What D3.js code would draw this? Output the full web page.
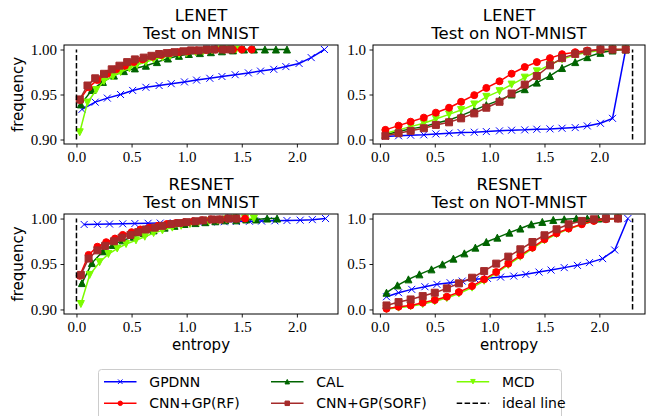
<!DOCTYPE html>
<html lang="en">
<head>
    <meta charset="UTF-8">
    <title>entropy cdf</title>
    <script src="https://cdn.jsdelivr.net/npm/d3@7/dist/d3.min.js"></script>
    <style type="text/css">
        body { margin: 0; background: #fff; }
        .title, .axis-label, .legend text { font-family: "DejaVu Sans", sans-serif; fill: #000; }
        .line { fill: none; stroke-width: 1.5px; }
    </style>
</head>
<body>
    <div id="diagram"></div>
    <script type="text/javascript">
// ---- data ----
var seriesNames = ["GPDNN", "CAL", "MCD", "CNN+GP(RF)", "CNN+GP(SORF)"];
var idealName = "ideal line";
var xTicks = [0.0, 0.5, 1.0, 1.5, 2.0];
var mnistTicks = [0.90, 0.95, 1.00];
var notMnistTicks = [0.0, 0.5, 1.0];

// LENET, test on MNIST
var lmGpdnnX = [0.05,0.17,0.28,0.40,0.51,0.63,0.75,0.86,0.98,1.09,1.21,1.32,1.44,1.56,1.67,1.79,1.90,2.02,2.13,2.25];
var lmGpdnnY = [0.9335,0.9415,0.946,0.950,0.9545,0.958,0.960,0.962,0.964,0.966,0.968,0.970,0.972,0.974,0.976,0.978,0.981,0.9845,0.991,1.0];
var lmCalX = [0.04,0.14,0.24,0.34,0.43,0.53,0.63,0.73,0.83,0.93,1.02,1.12,1.22,1.32,1.42,1.52,1.61,1.71,1.81,1.91];
var lmCalY = [0.939,0.955,0.964,0.971,0.976,0.979,0.982,0.986,0.990,0.993,0.995,0.996,0.997,0.998,0.999,1.0,1.0,1.0,1.0,1.0];
var lmMcdX = [0.03,0.10,0.18,0.25,0.33,0.40,0.48,0.55,0.63,0.70,0.78,0.85,0.93,1.00,1.08,1.15,1.23,1.30,1.38,1.45];
var lmMcdY = [0.908,0.941,0.955,0.965,0.970,0.975,0.979,0.983,0.986,0.989,0.991,0.993,0.995,0.996,0.997,0.998,0.999,1.0,1.0,1.0];
var lmRfX = [0.03,0.11,0.19,0.28,0.36,0.44,0.52,0.60,0.69,0.77,0.85,0.93,1.01,1.09,1.18,1.26,1.34,1.42,1.50,1.59];
var lmRfY = [0.944,0.958,0.966,0.973,0.978,0.982,0.986,0.989,0.992,0.994,0.996,0.997,0.998,0.999,0.9995,1.0,1.0,1.0,1.0,1.0];
var lmSorfX = [0.03,0.10,0.17,0.25,0.32,0.39,0.46,0.53,0.61,0.68,0.75,0.82,0.89,0.97,1.04,1.11,1.18,1.25,1.33,1.40];
var lmSorfY = [0.9445,0.960,0.968,0.973,0.978,0.982,0.986,0.989,0.991,0.993,0.995,0.996,0.997,0.998,0.999,0.999,1.0,1.0,1.0,1.0];

// LENET, test on NOT-MNIST (all series share the bins)
var lnX = [0.05,0.17,0.28,0.40,0.51,0.63,0.74,0.86,0.97,1.09,1.20,1.32,1.43,1.55,1.66,1.78,1.89,2.01,2.12,2.24];
var lnGpdnnY = [0.033,0.041,0.048,0.052,0.062,0.070,0.077,0.081,0.088,0.096,0.103,0.107,0.114,0.118,0.125,0.132,0.151,0.180,0.235,1.0];
var lnCalY = [0.052,0.088,0.118,0.143,0.180,0.217,0.265,0.327,0.382,0.438,0.500,0.559,0.632,0.706,0.794,0.860,0.915,0.963,0.989,1.0];
var lnMcdY = [0.070,0.107,0.143,0.180,0.228,0.279,0.327,0.389,0.474,0.537,0.610,0.687,0.757,0.830,0.890,0.940,0.970,0.989,1.0,1.0];
var lnRfY = [0.107,0.154,0.198,0.243,0.298,0.353,0.419,0.493,0.573,0.647,0.731,0.805,0.860,0.904,0.948,0.970,0.989,1.0,1.0,1.0];
var lnSorfY = [0.041,0.070,0.096,0.125,0.162,0.191,0.235,0.290,0.353,0.419,0.511,0.610,0.706,0.824,0.904,0.951,0.978,1.0,1.0,1.0];

// RESNET, test on MNIST
var rmGpdnnX = [0.07,0.19,0.30,0.42,0.53,0.65,0.76,0.88,0.99,1.11,1.22,1.34,1.45,1.57,1.68,1.80,1.91,2.03,2.14,2.26];
var rmGpdnnY = [0.9935,0.9937,0.994,0.9942,0.9945,0.9948,0.995,0.9953,0.9956,0.9959,0.9962,0.9965,0.9968,0.997,0.9972,0.9975,0.9978,0.9982,0.9988,1.0];
var rmCalX = [0.05,0.14,0.24,0.33,0.42,0.52,0.61,0.70,0.80,0.89,0.98,1.08,1.17,1.26,1.35,1.45,1.54,1.63,1.73,1.82];
var rmCalY = [0.929,0.951,0.964,0.971,0.976,0.980,0.984,0.987,0.990,0.992,0.994,0.995,0.996,0.997,0.998,0.998,0.999,0.999,1.0,1.0];
var rmMcdX = [0.04,0.12,0.21,0.29,0.37,0.45,0.54,0.62,0.70,0.78,0.87,0.95,1.03,1.11,1.20,1.28,1.36,1.44,1.53,1.61];
var rmMcdY = [0.906,0.938,0.952,0.961,0.967,0.972,0.976,0.980,0.984,0.987,0.990,0.992,0.994,0.996,0.997,0.998,0.999,1.0,1.0,1.0];
var rmRfX = [0.03,0.11,0.19,0.27,0.35,0.42,0.50,0.58,0.66,0.74,0.82,0.90,0.98,1.06,1.14,1.22,1.30,1.37,1.45,1.53];
var rmRfY = [0.937,0.960,0.969,0.974,0.978,0.982,0.985,0.988,0.990,0.992,0.994,0.995,0.996,0.997,0.998,0.999,0.999,1.0,1.0,1.0];
var rmSorfX = [0.04,0.11,0.19,0.26,0.34,0.41,0.49,0.56,0.63,0.71,0.78,0.86,0.93,1.00,1.08,1.15,1.23,1.30,1.38,1.45];
var rmSorfY = [0.938,0.956,0.965,0.970,0.975,0.979,0.982,0.985,0.988,0.990,0.992,0.994,0.995,0.996,0.997,0.998,0.999,0.999,1.0,1.0];

// RESNET, test on NOT-MNIST
var rnGpdnnX = [0.06,0.17,0.29,0.41,0.52,0.64,0.75,0.87,0.98,1.10,1.22,1.33,1.45,1.56,1.68,1.80,1.91,2.03,2.14,2.26];
var rnGpdnnY = [0.140,0.184,0.221,0.250,0.276,0.294,0.312,0.331,0.342,0.356,0.367,0.386,0.411,0.433,0.460,0.485,0.515,0.559,0.654,1.0];
var rnCalX = [0.06,0.16,0.26,0.36,0.47,0.57,0.67,0.77,0.87,0.97,1.07,1.18,1.28,1.38,1.48,1.58,1.68,1.79,1.89,1.99];
var rnCalY = [0.184,0.265,0.331,0.386,0.441,0.496,0.559,0.617,0.680,0.742,0.790,0.845,0.890,0.937,0.963,0.985,0.992,1.0,1.0,1.0];
var rnX = [0.06,0.17,0.28,0.39,0.50,0.61,0.72,0.84,0.95,1.06,1.17,1.28,1.39,1.50,1.61,1.72,1.84,1.95,2.06,2.17];
var rnMcdY = [0.005,0.020,0.035,0.060,0.090,0.125,0.175,0.240,0.315,0.400,0.490,0.580,0.670,0.760,0.830,0.885,0.935,0.970,0.990,1.0];
var rnRfY = [0.008,0.030,0.044,0.074,0.103,0.140,0.191,0.257,0.331,0.411,0.504,0.595,0.680,0.772,0.838,0.890,0.937,0.974,0.992,1.0];
var rnSorfY = [0.044,0.081,0.110,0.147,0.184,0.232,0.287,0.349,0.422,0.504,0.581,0.662,0.742,0.816,0.882,0.937,0.974,0.992,1.0,1.0];

// ideal line: entropy 0 for MNIST, ln(10) for NOT-MNIST
var idealMnist = 0;
var idealNotMnist = Math.log(10);

// ---- styles ----
var colors = ["#0000ff", "#006400", "#7cfc00", "#ff0000", "#a52a2a"];
var markers = ["x", "^", "v", "o", "s"];
var serif = '"Liberation Serif", "Times New Roman", serif';

function zip(xs, ys) {
    return xs.map(function (x, i) { return {x: x, y: ys[i]}; });
}

var panels = [
    {net: "LENET", test: "Test on MNIST", box: [64, 338, 45, 144], xd: [-0.113, 2.373], yd: [0.895, 1.005],
     yt: mnistTicks, fmt: ".2f", ideal: idealMnist, iy: [0.90, 1.00], ylab: true, xlab: false,
     series: [zip(lmGpdnnX, lmGpdnnY), zip(lmCalX, lmCalY), zip(lmMcdX, lmMcdY), zip(lmRfX, lmRfY), zip(lmSorfX, lmSorfY)]},
    {net: "LENET", test: "Test on NOT-MNIST", box: [373, 645, 45, 144], xd: [-0.063, 2.416], yd: [-0.05, 1.05],
     yt: notMnistTicks, fmt: ".1f", ideal: idealNotMnist, iy: [0, 1], ylab: false, xlab: false,
     series: [zip(lnX, lnGpdnnY), zip(lnX, lnCalY), zip(lnX, lnMcdY), zip(lnX, lnRfY), zip(lnX, lnSorfY)]},
    {net: "RESNET", test: "Test on MNIST", box: [64, 338, 214, 314], xd: [-0.113, 2.373], yd: [0.895, 1.005],
     yt: mnistTicks, fmt: ".2f", ideal: idealMnist, iy: [0.90, 1.00], ylab: true, xlab: true,
     series: [zip(rmGpdnnX, rmGpdnnY), zip(rmCalX, rmCalY), zip(rmMcdX, rmMcdY), zip(rmRfX, rmRfY), zip(rmSorfX, rmSorfY)]},
    {net: "RESNET", test: "Test on NOT-MNIST", box: [373, 645, 214, 314], xd: [-0.063, 2.416], yd: [-0.05, 1.05],
     yt: notMnistTicks, fmt: ".1f", ideal: idealNotMnist, iy: [0, 1], ylab: false, xlab: true,
     series: [zip(rnGpdnnX, rnGpdnnY), zip(rnCalX, rnCalY), zip(rnX, rnMcdY), zip(rnX, rnRfY), zip(rnX, rnSorfY)]}
];

function markerPath(type, ms) {
    var h = ms / 2;
    if (type == "o") return "M" + h + ",0A" + h + "," + h + " 0 1,1 " + (-h) + ",0A" + h + "," + h + " 0 1,1 " + h + ",0Z";
    if (type == "s") return "M" + (-h) + "," + (-h) + "H" + h + "V" + h + "H" + (-h) + "Z";
    if (type == "^") return "M0," + (-h) + "L" + h + "," + h + "L" + (-h) + "," + h + "Z";
    if (type == "v") return "M0," + h + "L" + h + "," + (-h) + "L" + (-h) + "," + (-h) + "Z";
    return "M" + (-h) + "," + (-h) + "L" + h + "," + h + "M" + (-h) + "," + h + "L" + h + "," + (-h);
}

function drawMarker(sel, type, color, ms) {
    return sel.append("path")
        .attr("d", markerPath(type, ms))
        .attr("fill", type == "x" ? "none" : color)
        .attr("stroke", color)
        .attr("stroke-width", 1);
}

var svg = d3.select("#diagram").append("svg")
    .attr("width", 649)
    .attr("height", 416);

panels.forEach(function (p) {
    var x0 = p.box[0], x1 = p.box[1], y0 = p.box[2], y1 = p.box[3];
    var x = d3.scaleLinear().domain(p.xd).range([x0, x1]);
    var y = d3.scaleLinear().domain(p.yd).range([y1, y0]);
    var g = svg.append("g");

    var ax = g.append("g")
        .attr("transform", "translate(0," + y1 + ")")
        .call(d3.axisBottom(x).tickValues(xTicks).tickFormat(d3.format(".1f")).tickSize(3.5).tickSizeOuter(0).tickPadding(3.5));
    var ay = g.append("g")
        .attr("transform", "translate(" + x0 + ",0)")
        .call(d3.axisLeft(y).tickValues(p.yt).tickFormat(d3.format(p.fmt)).tickSize(3.5).tickSizeOuter(0).tickPadding(3.5));
    [ax, ay].forEach(function (a) {
        a.select(".domain").remove();
        a.attr("font-size", 15).attr("font-family", serif);
        a.selectAll(".tick line").attr("stroke", "#000").attr("stroke-width", 0.9);
        a.selectAll(".tick text").attr("fill", "#000").style("font-family", serif).style("font-size", "15px");
    });

    var line = d3.line()
        .x(function (d) { return x(d.x); })
        .y(function (d) { return y(d.y); });

    p.series.forEach(function (s, i) {
        var sg = g.append("g");
        sg.append("path")
            .attr("class", "line")
            .attr("stroke", colors[i])
            .attr("d", line(s));
        sg.selectAll(".pt")
            .data(s)
            .enter()
            .append("g")
            .attr("transform", function (d) { return "translate(" + x(d.x) + "," + y(d.y) + ")"; })
            .each(function () { drawMarker(d3.select(this), markers[i], colors[i], 7); });
    });

    g.append("line")
        .attr("x1", x(p.ideal)).attr("x2", x(p.ideal))
        .attr("y1", y(p.iy[0])).attr("y2", y(p.iy[1]))
        .attr("stroke", "#000")
        .attr("stroke-width", 1.5)
        .attr("stroke-dasharray", "5.5,2.4");

    g.append("rect")
        .attr("x", x0).attr("y", y0)
        .attr("width", x1 - x0).attr("height", y1 - y0)
        .attr("fill", "none")
        .attr("stroke", "#000")
        .attr("stroke-width", 1);

    var cx = (x0 + x1) / 2;
    g.append("text").attr("class", "title").attr("x", cx).attr("y", y0 - 24)
        .attr("text-anchor", "middle").attr("font-size", "16.5px").text(p.net);
    g.append("text").attr("class", "title").attr("x", cx).attr("y", y0 - 5.7)
        .attr("text-anchor", "middle").attr("font-size", "16.5px").text(p.test);
    if (p.ylab) {
        g.append("text").attr("class", "axis-label")
            .attr("transform", "translate(23," + ((y0 + y1) / 2) + ") rotate(-90)")
            .attr("text-anchor", "middle").attr("font-size", "15px").text("frequency");
    }
    if (p.xlab) {
        g.append("text").attr("class", "axis-label").attr("x", cx).attr("y", y1 + 36)
            .attr("text-anchor", "middle").attr("font-size", "15px").text("entropy");
    }
});

// legend, filled column by column like matplotlib
var legend = svg.append("g").attr("class", "legend");
legend.append("rect")
    .attr("x", 98.5).attr("y", 369.5)
    .attr("width", 463).attr("height", 60)
    .attr("rx", 3)
    .attr("fill", "#fff")
    .attr("stroke", "#cccccc");

var legendItems = [
    {name: seriesNames[0], i: 0}, {name: seriesNames[3], i: 3},
    {name: seriesNames[1], i: 1}, {name: seriesNames[4], i: 4},
    {name: seriesNames[2], i: 2}, {name: idealName, i: -1}
];
var colX = [104, 271, 456.7];
var rowY = [381.7, 403.3];
legendItems.forEach(function (d, k) {
    var lx = colX[Math.floor(k / 2)], ly = rowY[k % 2];
    var item = legend.append("g").attr("transform", "translate(" + lx + "," + ly + ")");
    var ln = item.append("line")
        .attr("x1", 0).attr("x2", 32.5)
        .attr("y1", 0).attr("y2", 0)
        .attr("stroke-width", 1.5);
    if (d.i < 0) {
        ln.attr("stroke", "#000").attr("stroke-dasharray", "5.5,2.4");
    } else {
        ln.attr("stroke", colors[d.i]);
        var mg = item.append("g").attr("transform", "translate(16.25,0)");
        drawMarker(mg, markers[d.i], colors[d.i], 4.5);
    }
    item.append("text")
        .attr("x", 45.3)
        .attr("dy", "0.36em")
        .attr("font-size", "14px")
        .text(d.name);
});
    </script>
</body>
</html>
